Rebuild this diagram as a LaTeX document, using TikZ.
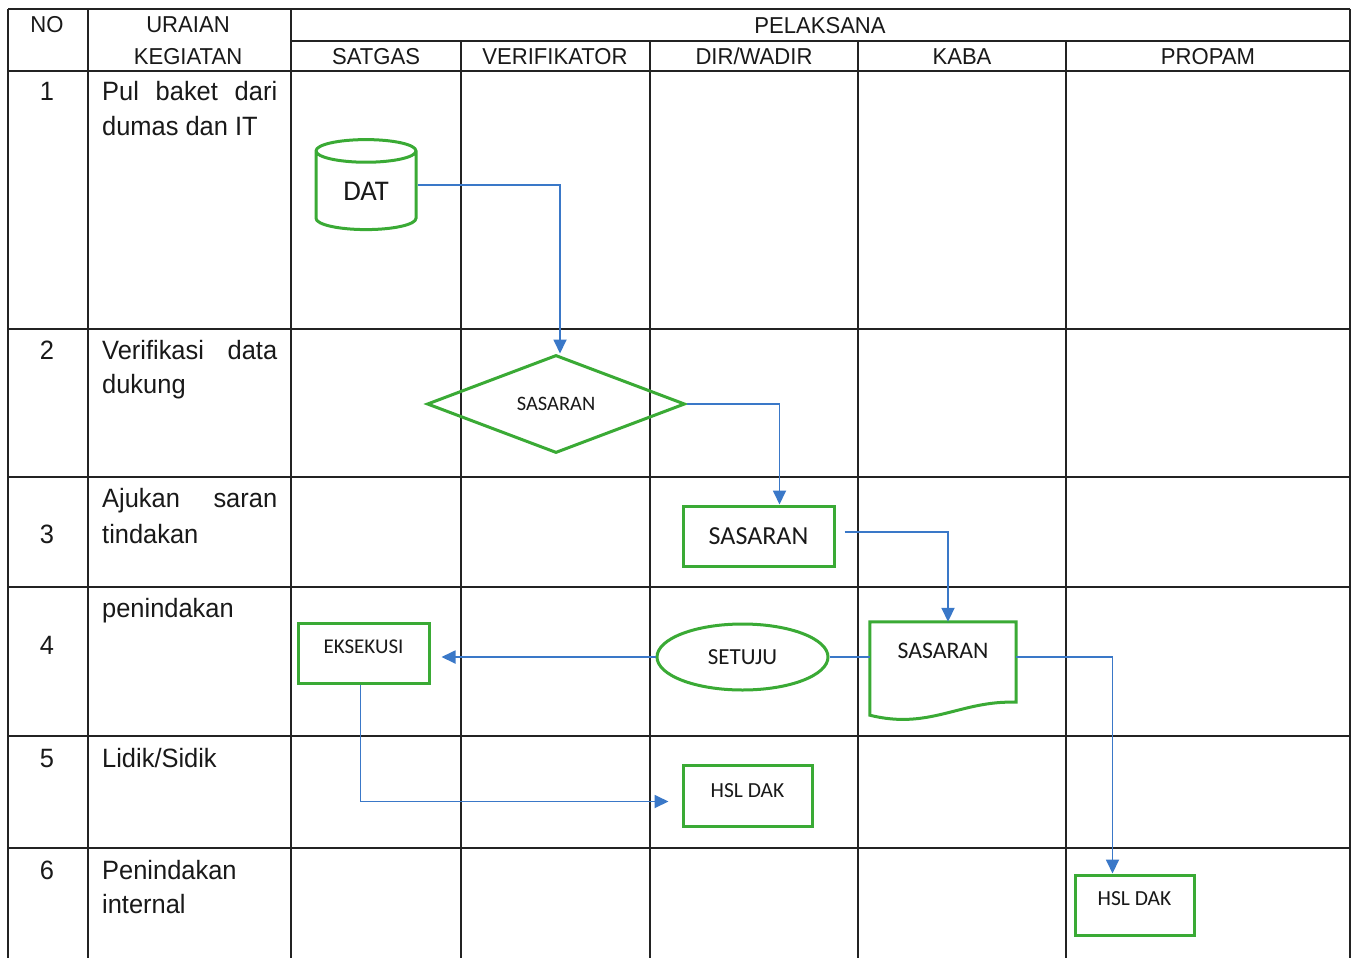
\documentclass[tikz,border=0pt]{standalone}
\usepackage{fontspec}
\setmainfont{Liberation Sans}
\newfontfamily\tabfont[FakeStretch=0.96]{Liberation Sans}
\newfontfamily\nodefont{Carlito}
\usetikzlibrary{shapes.geometric,arrows.meta}
\definecolor{fgreen}{RGB}{58,170,53}
\definecolor{fblue}{RGB}{58,120,200}
\definecolor{gridc}{RGB}{35,35,35}
\begin{document}
\begin{tikzpicture}[x=1pt,y=-1pt,
  grid/.style={draw=gridc,line width=1.3pt},
  hdr/.style={font=\tabfont\fontsize{23}{28}\selectfont,inner sep=0,anchor=base,text=black!90},
  rowtxt/.style={font=\tabfont\fontsize{26.5}{33}\selectfont,inner sep=0,anchor=base west,text=black!90},
  rownum/.style={font=\tabfont\fontsize{26.5}{33}\selectfont,inner sep=0,anchor=base,text=black!90},
  gshape/.style={draw=fgreen,line width=3pt,inner sep=0,text=black!90},
  flow/.style={draw=fblue,line width=1.8pt},
  arr/.style={flow,-{Triangle[length=14pt,width=13pt]}},
]
\fill[white] (0,0) rectangle (1354,958);
\useasboundingbox (0,0) rectangle (1354,958);

% table grid
\draw[grid] (8,9) -- (1350,9);
\draw[grid] (291,41) -- (1350,41);
\foreach \yy in {71,329,477,587,736,848} {\draw[grid] (8,\yy) -- (1350,\yy);}
\foreach \xx in {8,88,291,1350} {\draw[grid] (\xx,9) -- (\xx,958);}
\foreach \xx in {461,650,858,1066} {\draw[grid] (\xx,41) -- (\xx,958);}

% header
\node[hdr] (hno) at (47,33) {NO};
\node[hdr] (hur) at (188,33) {URAIAN};
\node[hdr] (hkeg) at (188,65) {KEGIATAN};
\node[hdr] (hpel) at (820,34) {PELAKSANA};
\node[hdr] (hsat) at (376,65) {SATGAS};
\node[hdr] (hver) at (555,65) {VERIFIKATOR};
\node[hdr] (hdir) at (754,65) {DIR/WADIR};
\node[hdr] (hkaba) at (962,65) {KABA};
\node[hdr] (hprop) at (1208,65) {PROPAM};

% rows
\node[rownum] (n1) at (47,100) {1};
\node[rowtxt] (t1a) at (102,100) {\makebox[175pt][s]{Pul baket dari}};
\node[rowtxt] (t1b) at (102,135) {dumas dan IT};
\node[rownum] (n2) at (47,359) {2};
\node[rowtxt] (t2a) at (102,359) {\makebox[175pt][s]{Verifikasi data}};
\node[rowtxt] (t2b) at (102,393) {dukung};
\node[rownum] (n3) at (47,543) {3};
\node[rowtxt] (t3a) at (102,507) {\makebox[175pt][s]{Ajukan saran}};
\node[rowtxt] (t3b) at (102,543) {tindakan};
\node[rownum] (n4) at (47,654) {4};
\node[rowtxt] (t4a) at (102,617) {penindakan};
\node[rownum] (n5) at (47,767) {5};
\node[rowtxt] (t5a) at (102,767) {Lidik/Sidik};
\node[rownum] (n6) at (47,879) {6};
\node[rowtxt] (t6a) at (102,879) {Penindakan};
\node[rowtxt] (t6b) at (102,913) {internal};

% flow shapes
\node[gshape,cylinder,shape border rotate=90,aspect=0.5,minimum width=100pt,minimum height=90pt,font=\nodefont\fontsize{28.5}{30}\selectfont] (dat) at (366,191) {DAT};
\node[gshape,diamond,aspect=2.63,minimum width=258pt,minimum height=98pt,font=\nodefont\fontsize{20.5}{24}\selectfont] (diam) at (556,404) {SASARAN};
\node[gshape,rectangle,minimum width=151pt,minimum height=60pt,font=\nodefont\fontsize{26}{28}\selectfont] (sas3) at (758.5,536) {SASARAN};
\node[gshape,ellipse,minimum width=171pt,minimum height=66pt,font=\nodefont\fontsize{23}{26}\selectfont] (setuju) at (742.5,657) {SETUJU};
\node[minimum width=146pt,minimum height=98pt,inner sep=0,text depth=40pt,text=black!90,font=\nodefont\fontsize{23.7}{26}\selectfont] (doc) at (943,671) {SASARAN};
\draw[draw=fgreen,line width=3pt,line join=miter] ([yshift=5pt]doc.south west) -- (doc.north west) -- (doc.north east) -- ([yshift=18pt]doc.south east) .. controls +(-56pt,2pt) and +(60pt,-15pt) .. ([yshift=5pt]doc.south west) -- cycle;
\node[gshape,rectangle,minimum width=131pt,minimum height=60pt,text depth=12pt,font=\nodefont\fontsize{21}{24}\selectfont] (eks) at (363.5,653) {EKSEKUSI};
\node[gshape,rectangle,minimum width=129pt,minimum height=61pt,text depth=10pt,font=\nodefont\fontsize{21.5}{24}\selectfont] (hsl5) at (747.5,795.5) {HSL DAK};
\node[gshape,rectangle,minimum width=119pt,minimum height=60pt,text depth=12pt,font=\nodefont\fontsize{21.5}{24}\selectfont] (hsl6) at (1134.5,905) {HSL DAK};

% connectors
\coordinate (eksin) at ([xshift=11pt]eks.east);
\draw[arr] ([yshift=6pt]dat.east) -| ([xshift=4pt]diam.north);
\draw[arr] (diam.east) -| ([xshift=21pt]sas3.north);
\draw[arr] ([xshift=9pt,yshift=4pt]sas3.east) -| ([xshift=5pt]doc.north);
\draw[arr] (setuju.west) -- (eksin |- setuju.west);
\draw[flow] (setuju.east) -- (doc.west |- setuju.east);
\draw[arr] (doc.east |- setuju.east) -| ([xshift=-22pt]hsl6.north);
\draw[arr] ([xshift=-3pt]eks.south) |- ([xshift=-13pt,yshift=-6pt]hsl5.west);
\end{tikzpicture}
\end{document}
